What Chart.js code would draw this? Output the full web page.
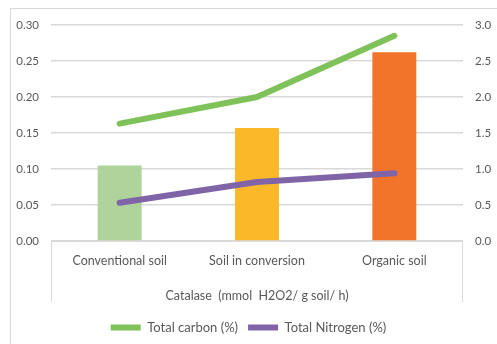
<!DOCTYPE html>
<html>
<head>
<meta charset="utf-8">
<script src="https://cdn.jsdelivr.net/npm/chart.js@4/dist/chart.umd.min.js"></script>
<style>
  html, body { margin: 0; padding: 0; background: #fff; }
  #wrap { position: relative; width: 497px; height: 344px; overflow: hidden; }
  #frame { position: absolute; left: 10px; top: 8px; width: 600px; height: 400px; border: 1px solid #d9d9d9; box-sizing: border-box; }
  canvas { position: absolute; left: 0; top: 0; }
</style>
</head>
<body>
<div id="wrap">
  <div id="frame"></div>
  <canvas id="c" width="497" height="344"></canvas>
</div>
<script>
// Soil management categories
const categories = ['Conventional soil', 'Soil in conversion', 'Organic soil'];
// Catalase activity (mmol H2O2 / g soil / h), left axis
const catalase = [0.105, 0.157, 0.262];
// Total carbon and nitrogen (%), right axis
const totalCarbon = [1.63, 2.0, 2.85];
const totalNitrogen = [0.53, 0.82, 0.94];
// Axis ticks
const leftTicks = [0, 0.05, 0.10, 0.15, 0.20, 0.25, 0.30];
const rightTicks = [0, 0.5, 1.0, 1.5, 2.0, 2.5, 3.0];

const barColors = ['#afd49b', '#fbb829', '#f1742a'];
const FONT = 'Lato, "Open Sans", sans-serif';
const GREY = '#595959';

// Frame around the category axis area
const axisBox = {
  id: 'axisBox',
  beforeDatasetsDraw(chart) {
    const { ctx, chartArea } = chart;
    const x = chart.scales.x;
    const bottom = x.bottom - 9;
    ctx.save();
    ctx.strokeStyle = '#d9d9d9';
    ctx.lineWidth = 1;
    ctx.beginPath();
    ctx.moveTo(chartArea.left + 0.5, bottom);
    ctx.lineTo(chartArea.left + 0.5, chartArea.bottom + 0.5);
    ctx.lineTo(chartArea.right - 0.5, chartArea.bottom + 0.5);
    ctx.lineTo(chartArea.right - 0.5, bottom);
    ctx.stroke();
    ctx.restore();
  }
};

new Chart(document.getElementById('c'), {
  data: {
    labels: categories,
    datasets: [
      {
        type: 'bar',
        label: 'Catalase',
        data: catalase,
        backgroundColor: barColors,
        yAxisID: 'y',
        barPercentage: 0.32,
        categoryPercentage: 1.0,
        order: 2
      },
      {
        type: 'line',
        label: 'Total carbon (%)',
        data: totalCarbon,
        borderColor: '#80c25a',
        backgroundColor: '#80c25a',
        borderWidth: 6,
        borderCapStyle: 'round',
        borderJoinStyle: 'round',
        pointRadius: 0,
        tension: 0,
        yAxisID: 'y1',
        order: 1
      },
      {
        type: 'line',
        label: 'Total Nitrogen (%)',
        data: totalNitrogen,
        borderColor: '#8064a8',
        backgroundColor: '#8064a8',
        borderWidth: 6,
        borderCapStyle: 'round',
        borderJoinStyle: 'round',
        pointRadius: 0,
        tension: 0,
        yAxisID: 'y1',
        order: 1
      }
    ]
  },
  options: {
    responsive: false,
    animation: false,
    layout: { padding: { top: 25, left: 0, right: 0, bottom: 0 } },
    plugins: {
      tooltip: { enabled: false },
      legend: {
        position: 'bottom',
        labels: {
          filter: item => item.datasetIndex > 0,
          usePointStyle: true,
          pointStyle: 'line',
          pointStyleWidth: 30,
          color: GREY,
          font: { family: FONT, size: 13 },
          boxHeight: 6,
          padding: 10
        }
      }
    },
    scales: {
      x: {
        grid: { display: false, drawTicks: false },
        border: { display: false },
        ticks: { color: GREY, font: { family: FONT, size: 12.5 }, padding: 12 },
        title: {
          display: true,
          text: 'Catalase  (mmol  H2O2/ g soil/ h)',
          color: GREY,
          font: { family: FONT, size: 12.5 },
          padding: { top: 8, bottom: 8 }
        }
      },
      y: {
        position: 'left',
        min: 0, max: 0.3,
        afterBuildTicks: s => { s.ticks = leftTicks.map(v => ({ value: v })); },
        afterFit: s => { s.width = 51; },
        grid: { color: '#d9d9d9', lineWidth: 1.5, drawTicks: false },
        border: { display: false },
        ticks: { color: GREY, font: { family: FONT, size: 11.5 }, padding: 12, callback: v => Number(v).toFixed(2) }
      },
      y1: {
        position: 'right',
        min: 0, max: 3,
        afterBuildTicks: s => { s.ticks = rightTicks.map(v => ({ value: v })); },
        afterFit: s => { s.width = 34; },
        grid: { display: false, drawTicks: false },
        border: { display: false },
        ticks: { color: GREY, font: { family: FONT, size: 11.5 }, padding: 12, callback: v => Number(v).toFixed(1) }
      }
    }
  },
  plugins: [axisBox]
});
</script>
</body>
</html>
